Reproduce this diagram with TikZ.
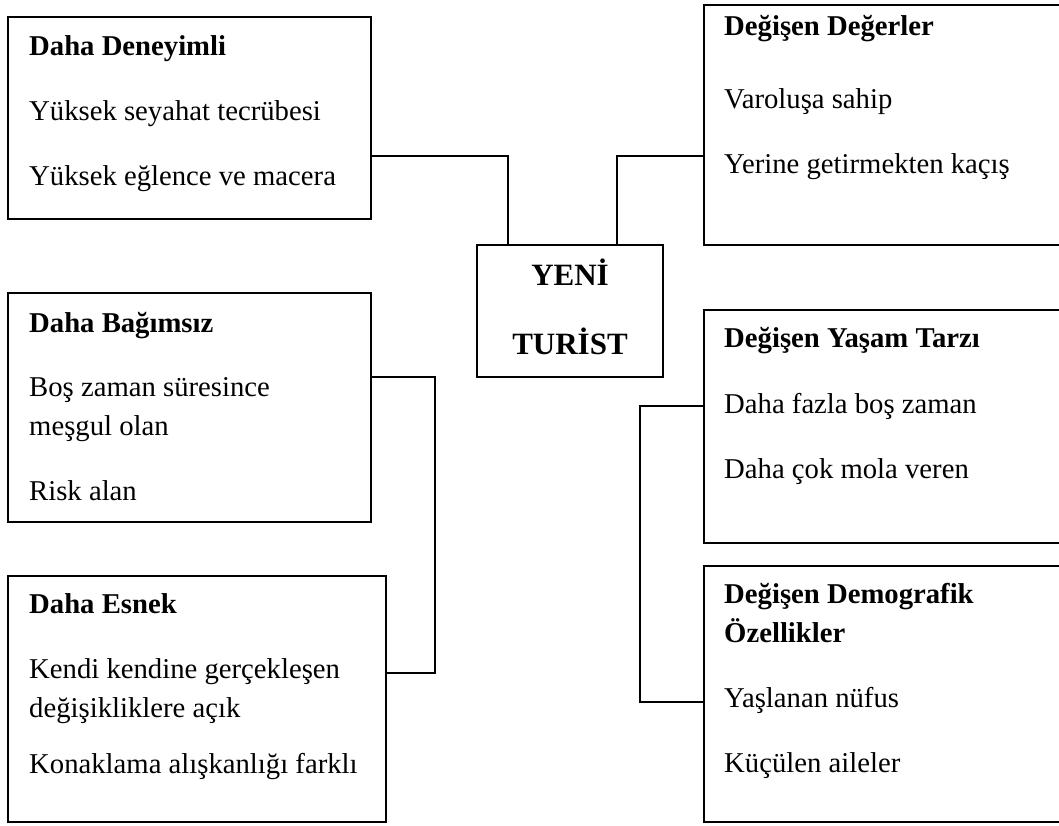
\documentclass[tikz,border=0pt]{standalone}
\usepackage{fontspec}
\setmainfont{Liberation Serif}
\tikzset{>=stealth}
\tikzset{
  kutu/.style={draw, line width=2pt, inner sep=0pt, outer sep=0pt, anchor=north west},
  satir/.style={inner sep=0pt, anchor=base west, font=\fontsize{28.7}{38}\selectfont},
  baslik/.style={satir, font=\fontsize{28.7}{38}\selectfont\bfseries},
  merkez/.style={inner sep=0pt, anchor=base, font=\fontsize{31}{38}\selectfont\bfseries},
  hat/.style={line width=2pt}
}

\begin{document}
\begin{tikzpicture}[x=1pt, y=-1pt]
    \useasboundingbox (0,0) rectangle (1059,825);
    \node[kutu, minimum width=363pt, minimum height=202pt] (deneyimli) at (8,17) {};
    \node[kutu, minimum width=363pt, minimum height=229pt] (bagimsiz) at (8,293) {};
    \node[kutu, minimum width=378pt, minimum height=246pt] (esnek) at (8,576) {};
    \node[kutu, minimum width=186pt, minimum height=132pt] (yeni) at (477,245) {};
    \node[kutu, minimum width=370pt, minimum height=240pt] (degerler) at (704,5) {};
    \node[kutu, minimum width=370pt, minimum height=233pt] (yasam) at (704,310) {};
    \node[kutu, minimum width=370pt, minimum height=256pt] (demografik) at (704,566) {};
    \node[baslik] (deneyimli0) at (29,55) {Daha Deneyimli};
    \node[satir] (deneyimli1) at (29,120) {Yüksek seyahat tecrübesi};
    \node[satir] (deneyimli2) at (29,185) {Yüksek eğlence ve macera};
    \node[baslik] (bagimsiz0) at (29,332) {Daha Bağımsız};
    \node[satir] (bagimsiz1) at (29,396) {Boş zaman süresince};
    \node[satir] (bagimsiz2) at (29,435) {meşgul olan};
    \node[satir] (bagimsiz3) at (29,500) {Risk alan};
    \node[baslik] (esnek0) at (29,613) {Daha Esnek};
    \node[satir] (esnek1) at (29,678) {Kendi kendine gerçekleşen};
    \node[satir] (esnek2) at (29,717) {değişikliklere açık};
    \node[satir] (esnek3) at (29,773) {Konaklama alışkanlığı farklı};
    \node[merkez] (yeni0) at (570,285) {YENİ};
    \node[merkez] (yeni1) at (570,354) {TURİST};
    \node[baslik] (degerler0) at (724,35) {Değişen Değerler};
    \node[satir] (degerler1) at (724,108) {Varoluşa sahip};
    \node[satir] (degerler2) at (724,173) {Yerine getirmekten kaçış};
    \node[baslik] (yasam0) at (724,347) {Değişen Yaşam Tarzı};
    \node[satir] (yasam1) at (724,413) {Daha fazla boş zaman};
    \node[satir] (yasam2) at (724,478) {Daha çok mola veren};
    \node[baslik] (demografik0) at (724,603) {Değişen Demografik};
    \node[baslik] (demografik1) at (724,642) {Özellikler};
    \node[satir] (demografik2) at (724,707) {Yaşlanan nüfus};
    \node[satir] (demografik3) at (724,772) {Küçülen aileler};
    \coordinate (K1) at (508,156);
    \coordinate (K2) at (435,377);
    \coordinate (K3) at (435,673);
    \coordinate (K4) at (617,156);
    \coordinate (K5) at (640,406);
    \coordinate (K6) at (640,702);
    \draw[hat] (deneyimli.east |- K1) -| (yeni.north -| K1);
    \draw[hat] (bagimsiz.east |- K2) -- (K2) -- (K3) -- (esnek.east |- K3);
    \draw[hat] (yeni.north -| K4) |- (degerler.west |- K4);
    \draw[hat] (yasam.west |- K5) -- (K5) -- (K6) -- (demografik.west |- K6);
\end{tikzpicture}
\end{document}
